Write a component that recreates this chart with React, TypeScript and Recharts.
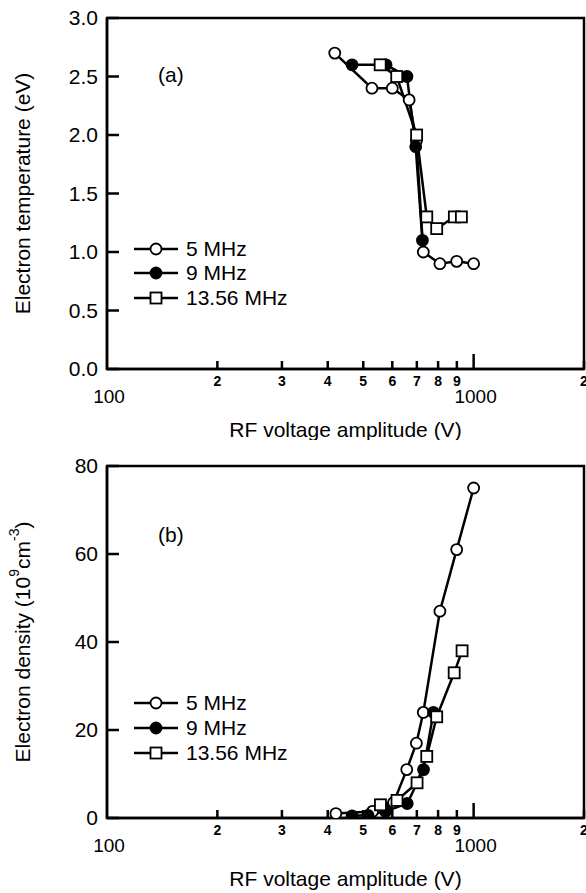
import { LineChart, Line, XAxis, YAxis, ReferenceArea } from "recharts";

const FONT = '"Liberation Sans", Arial, Helvetica, sans-serif';

const X_TICKS = [100, 200, 300, 400, 500, 600, 700, 800, 900, 1000, 2000];

// (a) electron temperature (eV) vs RF voltage (V)
const tempV5 = [418, 528, 600, 667, 698, 729, 809, 899, 1000];
const tempT5 = [2.7, 2.4, 2.4, 2.3, 1.95, 1.0, 0.9, 0.92, 0.9];
const tempV9 = [466, 577, 658, 695, 725];
const tempT9 = [2.6, 2.6, 2.5, 1.9, 1.1];
const tempV13 = [556, 617, 699, 745, 793, 886, 926];
const tempT13 = [2.6, 2.5, 2.0, 1.3, 1.2, 1.3, 1.3];
const TEMP_TICKS = [0, 0.5, 1, 1.5, 2, 2.5, 3];

// (b) electron density (1e9 cm^-3) vs RF voltage (V)
const densV5 = [421, 530, 605, 657, 698, 729, 809, 899, 1000];
const densN5 = [1, 1.5, 3.5, 11, 17, 24, 47, 61, 75];
const densV9 = [466, 515, 575, 659, 730, 777];
const densN9 = [0.5, 0.6, 1.5, 3.3, 11, 24];
const densV13 = [557, 618, 701, 745, 793, 885, 930];
const densN13 = [3, 4, 8, 14, 23, 33, 38];
const DENS_TICKS = [0, 20, 40, 60, 80];

const SERIES_NAMES = ["5 MHz", "9 MHz", "13.56 MHz"];

const zip = (xs: number[], ys: number[]) => xs.map((v, i) => ({ v, y: ys[i] }));

const LW = 2.5;

function Marker({ kind, cx, cy }: { kind: number; cx: number; cy: number }) {
  if (kind === 2)
    return <rect x={cx - 5.5} y={cy - 5.5} width={11} height={11} fill="#fff" stroke="#000" strokeWidth={1.8} />;
  return <circle cx={cx} cy={cy} r={5.5} fill={kind === 1 ? "#000" : "#fff"} stroke="#000" strokeWidth={1.8} />;
}

const dotFor = (kind: number) => (p: any) =>
  <Marker key={`d${kind}-${p.index}`} kind={kind} cx={p.cx} cy={p.cy} />;

function XTick({ x, y, payload }: any) {
  const v = payload.value;
  const major = v === 100 || v === 1000;
  const len = v === 1000 ? 15 : v === 100 ? 0 : 8;
  return (
    <g>
      {len > 0 && <line x1={x} x2={x} y1={y} y2={y - len} stroke="#000" strokeWidth={LW} />}
      {major ? (
        <text x={x + 2} y={y + 34} textAnchor="middle" fontSize={19} fontFamily={FONT} fill="#000">
          {v}
        </text>
      ) : (
        <text x={x} y={y + 17} textAnchor="middle" fontSize={14} fontWeight="bold" fontFamily={FONT} fill="#000">
          {String(v).charAt(0)}
        </text>
      )}
    </g>
  );
}

const yTickFor = (digits: number) => ({ x, y, payload }: any) => (
  <g>
    <line x1={x} x2={x + 12} y1={y} y2={y} stroke="#000" strokeWidth={LW} />
    <text x={x - 9} y={y + 7} textAnchor="end" fontSize={21} fontFamily={FONT} fill="#000">
      {Number(payload.value).toFixed(digits)}
    </text>
  </g>
);

const xTitle = (props: any) => {
  const vb = props.viewBox;
  return (
    <text x={vb.x + vb.width / 2} y={vb.y + 68} textAnchor="middle" fontSize={21} fontFamily={FONT} fill="#000">
      RF voltage amplitude (V)
    </text>
  );
};

const yTitleFor = (kind: "temp" | "dens") => (props: any) => {
  const vb = props.viewBox;
  const cx = 22;
  const cy = vb.y + vb.height / 2;
  return (
    <text
      x={cx}
      y={cy}
      transform={`rotate(-90, ${cx}, ${cy})`}
      textAnchor="middle"
      dominantBaseline="central"
      fontSize={21}
      fontFamily={FONT}
      fill="#000"
    >
      {kind === "temp" ? (
        "Electron temperature (eV)"
      ) : (
        <>
          Electron density (10
          <tspan dy={-8} fontSize={14}>9</tspan>
          <tspan dy={8}>cm</tspan>
          <tspan dy={-8} fontSize={14}>-3</tspan>
          <tspan dy={8}>)</tspan>
        </>
      )}
    </text>
  );
};

interface PanelProps {
  top: number;
  height: number;
  plotTop: number;
  xHeight: number;
  yMax: number;
  yTicks: number[];
  digits: number;
  kind: "temp" | "dens";
  lines: { v: number; y: number }[][];
  tag: string;
  tagY: number;
  legendY: number[];
}

function Panel(p: PanelProps) {
  return (
    <div style={{ position: "absolute", left: 0, top: p.top, width: 586, height: p.height }}>
      <LineChart width={586} height={p.height} margin={{ top: p.plotTop, right: 2, left: 0, bottom: 0 }}>
        <XAxis
          dataKey="v"
          type="number"
          scale="log"
          domain={[100, 2000]}
          ticks={X_TICKS}
          interval={0}
          allowDataOverflow
          height={p.xHeight}
          tickSize={0}
          tickMargin={0}
          tickLine={false}
          axisLine={{ stroke: "#000", strokeWidth: LW }}
          tick={XTick}
          label={{ content: xTitle }}
        />
        <YAxis
          dataKey="y"
          type="number"
          domain={[0, p.yMax]}
          ticks={p.yTicks}
          interval={0}
          allowDataOverflow
          width={107}
          tickSize={0}
          tickMargin={0}
          tickLine={false}
          axisLine={{ stroke: "#000", strokeWidth: LW }}
          tick={yTickFor(p.digits)}
          label={{ content: yTitleFor(p.kind) }}
        />
        <ReferenceArea x1={100} x2={2000} y1={0} y2={p.yMax} fill="none" stroke="#000" strokeWidth={LW} ifOverflow="visible" />
        {p.lines.map((d, i) => (
          <Line
            key={SERIES_NAMES[i]}
            name={SERIES_NAMES[i]}
            data={d}
            dataKey="y"
            type="linear"
            stroke="#000"
            strokeWidth={LW}
            dot={dotFor(i)}
            activeDot={false}
            isAnimationActive={false}
          />
        ))}
      </LineChart>
      <svg width={586} height={p.height} style={{ position: "absolute", left: 0, top: 0, pointerEvents: "none" }}>
        <text x={158} y={p.tagY + 7} fontSize={21} fontFamily={FONT} fill="#000">
          {p.tag}
        </text>
        {SERIES_NAMES.map((n, i) => (
          <g key={n}>
            <line x1={134} x2={178} y1={p.legendY[i]} y2={p.legendY[i]} stroke="#000" strokeWidth={LW} />
            <Marker kind={i} cx={156} cy={p.legendY[i]} />
            <text x={186} y={p.legendY[i] + 7} fontSize={21} fontFamily={FONT} fill="#000">
              {n}
            </text>
          </g>
        ))}
      </svg>
    </div>
  );
}

export default function App() {
  return (
    <div style={{ position: "absolute", left: 0, top: 0, width: 586, height: 893, background: "#fff" }}>
      <Panel
        top={0}
        height={440}
        plotTop={18}
        xHeight={71}
        yMax={3}
        yTicks={TEMP_TICKS}
        digits={1}
        kind="temp"
        lines={[zip(tempV5, tempT5), zip(tempV9, tempT9), zip(tempV13, tempT13)]}
        tag="(a)"
        tagY={75}
        legendY={[249, 273, 298]}
      />
      <Panel
        top={440}
        height={453}
        plotTop={26}
        xHeight={75}
        yMax={80}
        yTicks={DENS_TICKS}
        digits={0}
        kind="dens"
        lines={[zip(densV5, densN5), zip(densV9, densN9), zip(densV13, densN13)]}
        tag="(b)"
        tagY={95}
        legendY={[263, 288, 313]}
      />
    </div>
  );
}
